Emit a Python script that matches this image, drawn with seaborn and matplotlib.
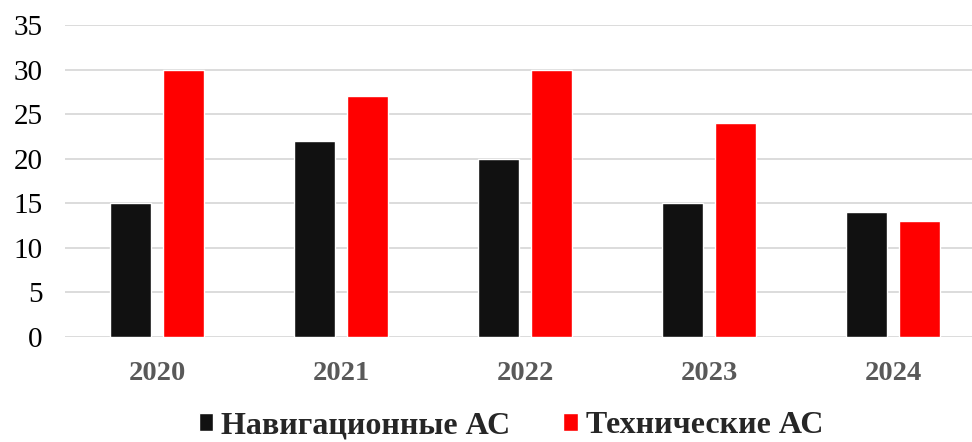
import pandas as pd
import matplotlib.pyplot as plt
import seaborn as sns

years = ["2020", "2021", "2022", "2023", "2024"]
nav = [15, 22, 20, 15, 14]
tech = [30, 27, 30, 24, 13]
series = ["Навигационные АС", "Технические АС"]
colors = ["#111111", "#ff0000"]

df = pd.DataFrame({
    "year": years * 2,
    "value": nav + tech,
    "series": [series[0]] * 5 + [series[1]] * 5,
})

sns.set_style("white")
plt.rcParams['font.family'] = ['Liberation Serif', 'DejaVu Serif']

fig = plt.figure(figsize=(9.72, 4.42), dpi=100)
ax = fig.add_axes([65 / 972, 1 - 337 / 442, 920 / 972, 312 / 442])

sns.barplot(data=df, x="year", y="value", hue="series", palette=colors,
            width=0.576, gap=0.226, ax=ax, legend=True, saturation=1)

ax.set_ylim(0, 35)
ax.set_xlim(-0.5, 4.5)
ax.set_yticks(range(0, 36, 5))
ax.yaxis.grid(True, color="#d9d9d9", linewidth=1.3)
ax.set_axisbelow(True)
for s in ax.spines.values():
    s.set_visible(False)
ax.set_xlabel("")
ax.set_ylabel("")
ax.tick_params(axis="y", labelsize=21, colors="black", length=0, pad=16)
ax.tick_params(axis="x", labelsize=20.5, colors="#595959", length=0, pad=17)
for lab in ax.get_xticklabels():
    lab.set_fontweight("bold")

handles, labels = ax.get_legend_handles_labels()
ax.get_legend().remove()
fig.legend(handles, labels, loc="lower center", bbox_to_anchor=(511 / 972, 0.0),
           ncol=2, frameon=False, prop={"weight": "bold", "size": 23},
           handlelength=0.45, handleheight=0.45, handletextpad=0.25,
           columnspacing=1.65, borderpad=0.0, borderaxespad=0.05)

fig.savefig("out.png", dpi=100)
